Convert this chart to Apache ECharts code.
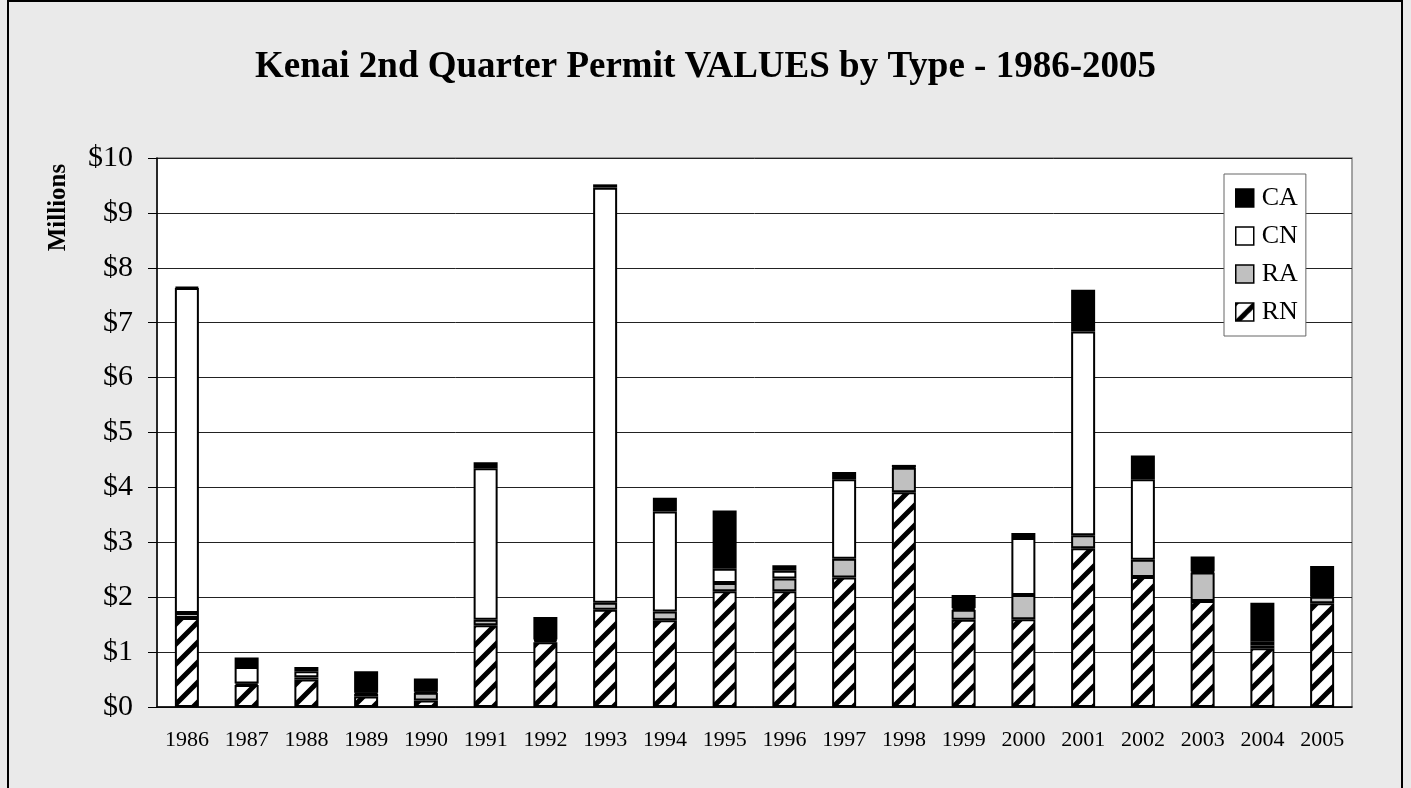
<!DOCTYPE html>
<html>
<head>
<meta charset="utf-8">
<script src="https://cdn.jsdelivr.net/npm/echarts@6/dist/echarts.min.js"></script>
<style>
html,body{margin:0;padding:0;background:#eaeaea;}
#chart{width:1411px;height:788px;}
</style>
</head>
<body>
<div id="chart"></div>
<script>
const years = ['1986','1987','1988','1989','1990','1991','1992','1993','1994','1995','1996','1997','1998','1999','2000','2001','2002','2003','2004','2005'];
const RN = [1.62,0.40,0.50,0.19,0.12,1.49,1.18,1.77,1.58,2.11,2.11,2.36,3.91,1.59,1.60,2.89,2.37,1.93,1.07,1.89];
const RA = [0.09,0.03,0.04,0.05,0.14,0.10,0.03,0.13,0.16,0.15,0.23,0.34,0.45,0.18,0.44,0.24,0.31,0.52,0.05,0.12];
const CN = [5.92,0.30,0.11,0.02,0.02,2.76,0.02,7.56,1.82,0.26,0.14,1.45,0.01,0.03,1.04,3.71,1.47,0.02,0.07,0.01];
const CA = [0.02,0.17,0.08,0.39,0.24,0.11,0.41,0.06,0.25,1.06,0.10,0.13,0.04,0.24,0.09,0.76,0.43,0.27,0.71,0.55];
const yTicks = [0,1,2,3,4,5,6,7,8,9,10];

const FONT = "'Liberation Serif','Times New Roman',serif";

function makeHatch(){
  const s = 20;
  const c = document.createElement('canvas');
  c.width = s; c.height = s;
  const g = c.getContext('2d');
  g.fillStyle = '#fff';
  g.fillRect(0,0,s,s);
  g.strokeStyle = '#000';
  g.lineWidth = 5;
  g.beginPath();
  g.moveTo(-5, s+5); g.lineTo(s+5, -5);
  g.moveTo(-5, 5); g.lineTo(5, -5);
  g.moveTo(s-5, s+5); g.lineTo(s+5, s-5);
  g.stroke();
  return c;
}

const chart = echarts.init(document.getElementById('chart'));
const barW = 24;
function seriesOf(name, data, color){
  return {
    name: name, type: 'bar', stack: 'total', data: data, barWidth: barW,
    itemStyle: {color: color, borderColor: '#000', borderWidth: 2},
    emphasis: {disabled: true}
  };
}

chart.setOption({
  backgroundColor: '#eaeaea',
  animation: false,
  title: {
    text: 'Kenai 2nd Quarter Permit VALUES by Type - 1986-2005',
    left: 'center', top: 44,
    textStyle: {fontFamily: FONT, fontSize: 37, fontWeight: 'bold', color: '#000'}
  },
  grid: {
    left: 157, right: 59, top: 158, bottom: 81,
    show: true, backgroundColor: '#fff', borderColor: '#888', borderWidth: 1.5
  },
  legend: {
    data: ['CA','CN','RA','RN'],
    orient: 'vertical',
    left: 1224, top: 174,
    padding: [11, 8, 11, 11],
    itemGap: 12,
    itemWidth: 18, itemHeight: 18,
    icon: 'rect',
    backgroundColor: '#fff',
    borderColor: '#666', borderWidth: 1,
    textStyle: {fontFamily: FONT, fontSize: 26, color: '#000', padding: [0,0,0,3]},
    itemStyle: {borderWidth: 1.5}
  },
  xAxis: {
    type: 'category', data: years,
    axisLine: {lineStyle: {color: '#000', width: 1.5}},
    axisTick: {length: 6, lineStyle: {color: '#000'}},
    axisLabel: {fontFamily: FONT, fontSize: 22, color: '#000', margin: 22}
  },
  yAxis: {
    type: 'value', min: yTicks[0], max: yTicks[yTicks.length-1], interval: 1,
    axisLine: {show: true, lineStyle: {color: '#000', width: 1.5}},
    axisTick: {show: true, length: 9, lineStyle: {color: '#000'}},
    axisLabel: {fontFamily: FONT, fontSize: 30, color: '#000', margin: 24, formatter: v => '$' + v},
    splitLine: {lineStyle: {color: '#222', width: 1}}
  },
  graphic: [
    {type: 'rect', silent: true, z: -1, shape: {x: 8, y: 1, width: 1394, height: 820},
     style: {fill: 'none', stroke: '#000', lineWidth: 2}},
    {type: 'text', x: 58.5, y: 207.5, rotation: Math.PI/2,
     style: {text: 'Millions', fontFamily: FONT, fontSize: 25, fontWeight: 'bold', fill: '#000',
             textAlign: 'center', textVerticalAlign: 'middle'}}
  ],
  series: [
    seriesOf('RN', RN, {image: makeHatch(), repeat: 'repeat'}),
    seriesOf('RA', RA, '#c0c0c0'),
    seriesOf('CN', CN, '#ffffff'),
    seriesOf('CA', CA, '#000000')
  ]
});
</script>
</body>
</html>
